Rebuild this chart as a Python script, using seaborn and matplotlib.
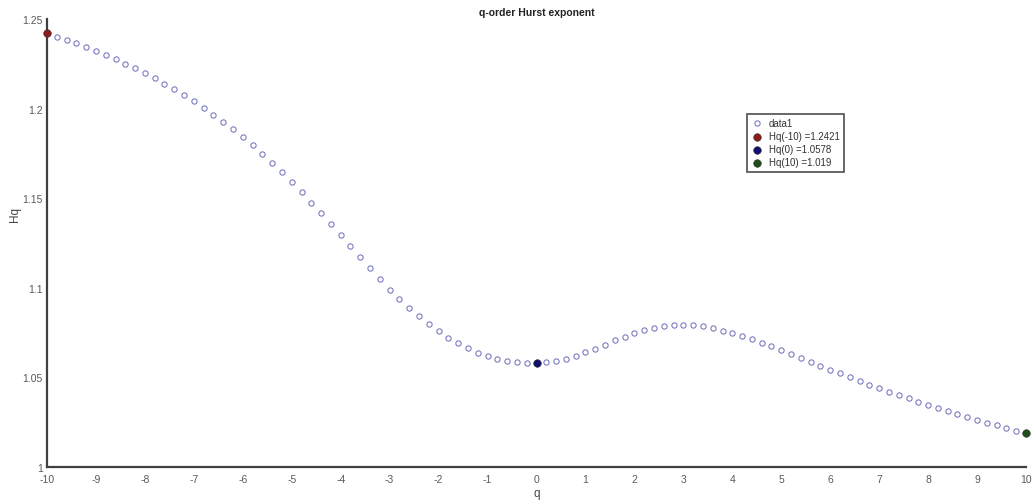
import matplotlib
matplotlib.use("Agg")
import matplotlib.pyplot as plt
import numpy as np
import seaborn as sns

# q-order Hurst exponent estimates, q = -10 : 0.2 : 10
q = np.round(np.arange(-10, 10.0001, 0.2), 1)
hq = [
    1.2421, 1.2401, 1.2385, 1.2366, 1.2344, 1.2320, 1.2299, 1.2277, 1.2251, 1.2227,
    1.2199, 1.2171, 1.2139, 1.2108, 1.2076, 1.2041, 1.2005,
    1.1966, 1.1925, 1.1886, 1.1840, 1.1795, 1.1747, 1.1698, 1.1646, 1.1592, 1.1536,
    1.1475, 1.1417, 1.1356, 1.1293, 1.1232, 1.1172, 1.1109,
    1.1049, 1.0989, 1.0938, 1.0887, 1.0843, 1.0798, 1.0757, 1.0722, 1.0690, 1.0662,
    1.0638, 1.0619, 1.0603, 1.0592, 1.0584, 1.0579, 1.0578,
    1.0586, 1.0592, 1.0601, 1.0618, 1.0640, 1.0660, 1.0682, 1.0707, 1.0727, 1.0746,
    1.0765, 1.0776, 1.0785, 1.0792, 1.0794, 1.0791, 1.0785, 1.0774, 1.0761, 1.0748,
    1.0731,
    1.0714, 1.0692, 1.0674, 1.0653, 1.0632, 1.0608, 1.0588, 1.0565, 1.0543, 1.0523,
    1.0502, 1.0480, 1.0459, 1.0441,
    1.0419, 1.0402, 1.0383, 1.0364, 1.0346, 1.0327, 1.0311, 1.0294, 1.0277, 1.0261,
    1.0247, 1.0233, 1.0218, 1.0203, 1.0190,
]
hq = np.array(hq)

highlight_q = [-10, 0, 10]
highlight_colors = ["#8c1c1c", "#10106e", "#1d4f1d"]

x_ticks = list(range(-10, 11))
y_ticks = [1.0, 1.05, 1.1, 1.15, 1.2, 1.25]
y_tick_labels = ["1", "1.05", "1.1", "1.15", "1.2", "1.25"]

sns.set_theme(style="white")
plt.rcParams["font.family"] = ["Liberation Sans", "DejaVu Sans"]

fig = plt.figure(figsize=(10.34, 5.02), dpi=100)
ax = fig.add_axes([47 / 1034, 1 - 468 / 502, (1026 - 47) / 1034, (468 - 20) / 502])

sns.lineplot(x=q, y=hq, ax=ax, linestyle="", marker="o",
             markerfacecolor="none", markeredgecolor="#7b7bc2",
             markeredgewidth=0.8, markersize=3.8, label="data1", clip_on=False)

for qv, col in zip(highlight_q, highlight_colors):
    idx = int(np.argmin(np.abs(q - qv)))
    val = hq[idx]
    sns.scatterplot(x=[q[idx]], y=[val], ax=ax, color=col, s=30,
                    edgecolor="#303030", linewidth=0.4, zorder=5,
                    label=f"Hq({qv:g}) ={val:.5g}", clip_on=False)

ax.set_xlim(-10, 10)
ax.set_ylim(1.0, 1.25)
ax.set_xticks(x_ticks)
ax.set_xticklabels([str(t) for t in x_ticks])
ax.set_yticks(y_ticks)
ax.set_yticklabels(y_tick_labels)

for side in ("top", "right"):
    ax.spines[side].set_visible(False)
for side in ("left", "bottom"):
    ax.spines[side].set_color("#404040")
    ax.spines[side].set_linewidth(1.6)

ax.tick_params(axis="both", direction="in", length=7, width=1.3,
               color="#404040", labelsize=7.5, labelcolor="#5a5a5a", pad=3)
ax.tick_params(axis="x", pad=5)

ax.set_title("q-order Hurst exponent", fontsize=7.5, fontweight="bold",
             color="#222222", pad=3)
ax.set_xlabel("q", fontsize=8.5, color="#444444", labelpad=2)
ax.set_ylabel("Hq", fontsize=8.5, color="#444444")
ax.yaxis.set_label_coords(-0.027, 0.565)

leg = ax.legend(loc="upper left", bbox_to_anchor=(747 / 1034, 1 - 115 / 502),
                bbox_transform=fig.transFigure, fontsize=7, frameon=True,
                fancybox=False, borderpad=0.45, labelspacing=0.3,
                handlelength=1.2, handletextpad=0.6, borderaxespad=0)
leg.get_frame().set_edgecolor("#333333")
leg.get_frame().set_linewidth(1.3)
for t in leg.get_texts():
    t.set_color("#333333")

fig.savefig("out.png", dpi=100, facecolor="white")
